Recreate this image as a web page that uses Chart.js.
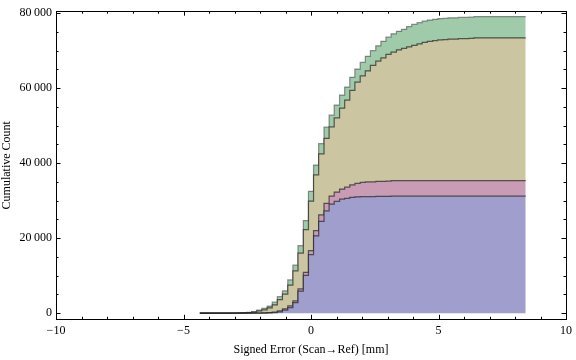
<!DOCTYPE html>
<html><head><meta charset="utf-8">
<script src="https://cdn.jsdelivr.net/npm/chart.js@4.4.1/dist/chart.umd.min.js"></script>
<style>html,body{margin:0;padding:0;background:#fff;}#wrap{width:576px;height:360px;}</style>
</head><body><div id="wrap"><canvas id="c" width="576" height="360"></canvas></div>
<script>
// bin edges (mm), 63 bins
const binEdges = [-4.36,-4.16,-3.95,-3.75,-3.55,-3.35,-3.14,-2.94,-2.74,-2.53,
  -2.33,-2.13,-1.93,-1.72,-1.52,-1.32,-1.12,-0.91,-0.71,-0.51,
  -0.30,-0.10,0.10,0.30,0.51,0.71,0.91,1.12,1.32,1.52,
  1.72,1.93,2.13,2.33,2.54,2.74,2.94,3.14,3.35,3.55,
  3.75,3.95,4.16,4.36,4.56,4.77,4.97,5.17,5.37,5.58,
  5.78,5.98,6.19,6.39,6.59,6.79,7.00,7.20,7.40,7.61,
  7.81,8.01,8.21,8.42];

// cumulative counts per series (one value per bin)
const blueCounts = [0,0,0,0,0,0,0,0,0,0,
  0,10,20,50,120,350,800,1500,2800,5900,
  10100,15600,20600,24500,27300,29100,29800,30400,30600,30900,
  31000,31050,31100,31100,31150,31150,31150,31200,31200,31200,
  31200,31200,31200,31200,31200,31200,31200,31200,31200,31200,
  31200,31200,31200,31200,31200,31200,31200,31200,31200,31200,
  31200,31200,31200];
const pinkCounts = [0,0,0,0,0,0,0,0,0,0,
  0,10,30,70,140,250,350,450,500,600,
  800,1100,1400,1700,2000,2100,2500,2700,3000,3300,
  3600,3800,3900,3900,4000,4000,4050,4150,4150,4150,
  4150,4150,4150,4150,4150,4150,4150,4150,4150,4150,
  4150,4150,4150,4150,4150,4150,4150,4150,4150,4150,
  4150,4150,4150];
const oliveCounts = [2,3,5,8,12,18,28,45,80,150,
  300,550,850,1280,1940,3000,3950,5550,8000,9500,
  11400,13200,14900,16300,17300,18500,19800,21600,23200,25200,
  27000,28450,29600,31100,32050,32950,33800,34250,34850,35250,
  35650,36050,36450,36850,37150,37350,37550,37600,37750,37750,
  37850,37850,37900,38050,38050,38050,38050,38050,38050,38050,
  38050,38050,38050];
const greenCounts = [1,1,2,3,5,8,12,20,35,60,
  100,250,380,500,740,800,850,1350,1500,2000,
  2400,2600,2600,2700,3000,3100,3400,3450,3500,3500,
  3500,3550,3900,3900,4100,4400,4600,4900,4950,5100,
  5400,5600,5650,5650,5650,5650,5650,5650,5650,5650,
  5650,5650,5670,5680,5700,5700,5700,5700,5700,5700,
  5700,5700,5700];

const xMajorTicks = [-10,-5,0,5,10];
const xTickLabels = ['\u221210','\u22125','0','5','10'];
const yMajorTicks = [0,20000,40000,60000,80000];
const yTickLabels = ['0','20\u2009000','40\u2009000','60\u2009000','80\u2009000'];
const xMinorTicks = [-9,-8,-7,-6,-4,-3,-2,-1,1,2,3,4,6,7,8,9];
const yMinorTicks = [5000,10000,15000,25000,30000,35000,45000,50000,55000,65000,70000,75000];

function toPoints(vals){
  const pts = vals.map((v,i)=>({x:binEdges[i], y:v}));
  pts.push({x:binEdges[binEdges.length-1], y:vals[vals.length-1]});
  return pts;
}

const frameTicks = {
  id:'frameTicks',
  afterDatasetsDraw(chart){
    const {ctx, chartArea:a, scales:{x,y}} = chart;
    ctx.save();
    ctx.strokeStyle = '#000';
    ctx.lineWidth = 1;
    ctx.beginPath();
    const xt = (v,len)=>{
      const px = Math.round(x.getPixelForValue(v))+0.5;
      ctx.moveTo(px,a.bottom); ctx.lineTo(px,a.bottom-len);
      ctx.moveTo(px,a.top); ctx.lineTo(px,a.top+len);
    };
    const yt = (v,len)=>{
      const py = Math.round(y.getPixelForValue(v))+0.5;
      ctx.moveTo(a.left,py); ctx.lineTo(a.left+len,py);
      ctx.moveTo(a.right,py); ctx.lineTo(a.right-len,py);
    };
    xMajorTicks.forEach(v=>xt(v,4.5));
    xMinorTicks.forEach(v=>xt(v,2.5));
    yMajorTicks.forEach(v=>yt(v,4.5));
    yMinorTicks.forEach(v=>yt(v,2.5));
    ctx.stroke();
    ctx.strokeRect(Math.round(a.left)+0.5, Math.round(a.top)+0.5,
      Math.round(a.right)-Math.round(a.left), Math.round(a.bottom)-Math.round(a.top));
    ctx.restore();
  }
};

const lineCol = 'rgba(30,30,30,0.7)';
const serif = "'Liberation Serif','DejaVu Serif',serif";

new Chart(document.getElementById('c'), {
  type:'line',
  data:{datasets:[
    {label:'blue', data:toPoints(blueCounts), backgroundColor:'#a09ecc', borderColor:lineCol, borderWidth:1.2, fill:'origin', stepped:true, pointRadius:0},
    {label:'pink', data:toPoints(pinkCounts), backgroundColor:'#c99bb5', borderColor:lineCol, borderWidth:1.2, fill:'-1', stepped:true, pointRadius:0},
    {label:'olive', data:toPoints(oliveCounts), backgroundColor:'#cbc6a1', borderColor:lineCol, borderWidth:1.2, fill:'-1', stepped:true, pointRadius:0},
    {label:'green', data:toPoints(greenCounts), backgroundColor:'#9fcbaa', borderColor:'rgba(60,60,60,0.55)', borderWidth:1.2, fill:'-1', stepped:true, pointRadius:0}
  ]},
  options:{
    responsive:false, animation:false, devicePixelRatio:1,
    layout:{padding:{top:4,right:7,left:0,bottom:0}},
    plugins:{legend:{display:false}, tooltip:{enabled:false}},
    scales:{
      x:{type:'linear', min:-10, max:10,
        grid:{display:false, drawTicks:false}, border:{display:false},
        afterBuildTicks:(s)=>{s.ticks = xMajorTicks.map(v=>({value:v}));},
        afterFit:(s)=>{s.height = 40.7;},
        ticks:{padding:4, color:'#000', font:{family:serif, size:12},
          callback:(v)=>{const i = xMajorTicks.indexOf(v); return i>=0 ? xTickLabels[i] : '';}},
        title:{display:true, text:'Signed Error (Scan\u2192Ref) [mm]', color:'#000', font:{family:serif, size:12}, padding:{top:0,bottom:3}}
      },
      y:{type:'linear', stacked:true, min:-1640, max:80520,
        grid:{display:false, drawTicks:false}, border:{display:false},
        afterBuildTicks:(s)=>{s.ticks = yMajorTicks.map(v=>({value:v}));},
        afterFit:(s)=>{s.width = 56;},
        ticks:{padding:4, color:'#000', font:{family:serif, size:12},
          callback:(v)=>{const i = yMajorTicks.indexOf(v); return i>=0 ? yTickLabels[i] : '';}},
        title:{display:true, text:'Cumulative Count', color:'#000', font:{family:serif, size:12}, padding:{top:0,bottom:0}}
      }
    }
  },
  plugins:[frameTicks]
});
</script></body></html>
